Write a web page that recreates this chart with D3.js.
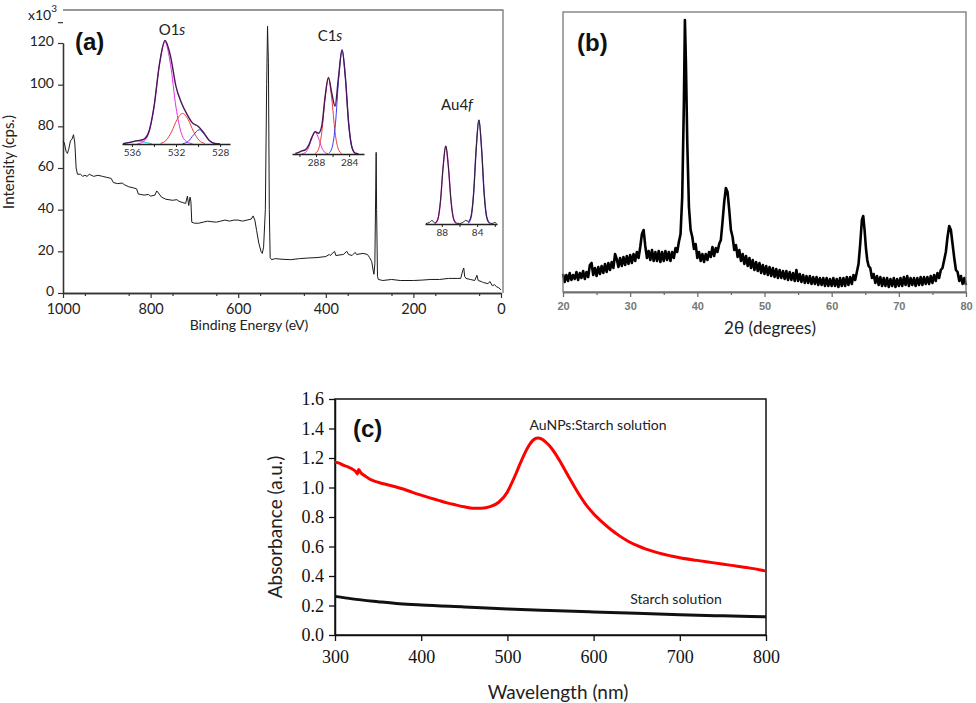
<!DOCTYPE html>
<html><head><meta charset="utf-8">
<script src="https://cdn.jsdelivr.net/npm/d3@7"></script>
<style>body{margin:0;background:#fff}svg{display:block}</style>
</head><body>
<svg id="fig" width="976" height="703"></svg>
<script>
// ---------- DATA ----------
// (a) XPS survey: [binding energy eV, intensity x10^3 cps]
const surveyData = [[1000,73],[997,72],[993,68],[990,67],[987,69],[983,73],[979,74],[976,76],[973,72],[970,60],[967,57],[960,57],[955,56],[950,56.5],[945,56],[940,57],[930,56],[920,56.5],[910,56],[900,55.5],[890,55],[885,53],[875,52.5],[865,52.8],[860,52],[850,51],[840,50.5],[832,50],[828,47.5],[815,47],[805,47.3],[800,46.5],[790,47],[786,49],[782,48],[775,46],[765,45],[750,44.5],[740,44.8],[735,44],[728,43.5],[720,43],[716,46.5],[713,42],[710,46],[708,44],[706,34],[700,33.5],[690,33.5],[680,34],[670,34.5],[660,34.2],[650,34],[640,34.5],[630,35],[620,34.5],[610,35],[600,35],[590,34.5],[580,35],[570,35.5],[566,37],[562,35],[558,30],[553,24],[548,20],[545,19],[542,22],[538,40],[535,100],[533,128],[531,110],[529,40],[527,17],[524,16],[515,16.5],[500,16.2],[480,16],[460,16.5],[440,16.8],[420,17],[400,17.5],[392,18.5],[390,18],[380,20],[377,18],[360,18.5],[352,20],[348,18.5],[340,18],[333,19.5],[330,18.5],[315,19],[305,18.5],[300,17],[295,15],[292,11],[290,9],[288,14],[286,50],[285,67.5],[284,40],[282,8],[280,6.5],[270,6],[250,6.5],[230,6],[200,6],[180,6.2],[160,6.5],[140,6.5],[120,7],[100,7],[92,7],[89,9.5],[87,11],[85,12],[83,8],[80,7],[70,6.5],[60,6],[55,8.5],[52,6],[45,5.5],[40,5],[30,4.5],[25,5.5],[20,3.5],[15,4],[10,3],[5,2.5],[0,1.5]];
const surveyXTicks = [1000, 800, 600, 400, 200, 0];
const surveyYTicks = [0, 20, 40, 60, 80, 100, 120];

// (a) insets: high-resolution regions [eV, relative intensity]
const o1sMain = [[535.5,0.3],[535,2],[534.5,10],[534,36],[533.5,78],[533,100],[532.5,78],[532,36],[531.5,10],[531,2],[530.5,0.3]];
const o1sRed = [[533.4,0.6],[532.9,3.5],[532.4,12],[531.9,24],[531.4,30],[530.9,24],[530.4,12],[529.9,3.5],[529.4,0.6]];
const o1sBlue = [[531.4,0.3],[530.9,2.5],[530.4,9],[529.9,14],[529.4,9],[528.9,2.5],[528.4,0.3]];
const o1sCyan = [[536.8,0.3],[536.2,1.6],[535.5,3],[534.8,1.6],[534.2,0.3]];
const o1sEnvelope = [[536.8,0.4],[536.2,1.6],[535.5,3.3],[535,4.2],[534.5,10.9],[534,36.2],[533.5,78.3],[533,101.5],[532.5,86.2],[532,56.3],[531.5,40.2],[531,29.1],[530.5,20.5],[530,17.4],[529.5,11.4],[529,3.7],[528.5,0.6],[528,0.1]];
const c1sBlue = [[286.45,0.7],[286.05,6.3],[285.65,29],[285.25,73.5],[284.85,100],[284.45,73.5],[284.05,29],[283.65,6.3],[283.25,0.7]];
const c1sRed = [[288.1,0.5],[287.7,4.6],[287.3,21],[286.9,53.7],[286.5,73],[286.1,53.7],[285.7,21],[285.3,4.6],[284.9,0.5]];
const c1sMagenta = [[289.7,0.15],[289.3,1.3],[288.9,6.1],[288.5,15.4],[288.1,21],[287.7,15.4],[287.3,6.1],[286.9,1.3],[286.5,0.15]];
const c1sEnvelope = [[290.5,0.5],[290.1,1.5],[289.7,3],[289.3,4],[288.9,8],[288.5,16],[288.1,21.5],[287.7,20],[287.3,27.1],[286.9,55],[286.5,73.7],[286.1,58.7],[285.7,46],[285.3,72.6],[284.85,100],[284.45,73.5],[284.05,29],[283.65,6.3],[283.25,0.7],[282.85,0.1]];
const au4fLeft = [[88.75,0.5],[88.45,4.5],[88.15,21.8],[87.85,54.8],[87.55,75],[87.25,54.8],[86.95,21.8],[86.65,4.5],[86.35,0.5]];
const au4fRight = [[85.0,0.7],[84.7,6],[84.4,29],[84.1,73],[83.8,100],[83.5,73],[83.2,29],[82.9,6],[82.6,0.7]];
const au4fEnvelope = [[89.8,0.5],[89.4,1.5],[89.1,3.5],[88.9,1.5],[88.75,1],[88.45,4.5],[88.15,21.8],[87.85,54.8],[87.55,75],[87.25,54.8],[86.95,21.8],[86.65,4.5],[86.35,0.8],[86.0,0.5],[85.6,1.5],[85.3,3.5],[85.0,2.5],[84.7,7],[84.4,29],[84.1,73],[83.8,100],[83.5,73],[83.2,29],[82.9,6],[82.6,1],[82.3,0.5],[82.0,1.5],[81.8,0.3]];

// (b) XRD pattern: [2theta deg, intensity a.u.]
const xrdData = [[20,18],[20.25,10],[20.5,17],[20.75,11],[21,19],[21.25,12],[21.5,17],[21.75,13],[22,20],[22.25,12],[22.5,19],[22.75,14],[23,21],[23.25,13],[23.5,20],[23.75,15],[24,27],[24.25,29],[24.5,17],[24.75,24],[25,16],[25.25,25],[25.5,18],[25.75,26],[26,19],[26.25,28],[26.5,20],[26.75,29],[27,22],[27.25,30],[27.5,24],[27.75,38],[28,33],[28.25,25],[28.5,34],[28.75,26],[29,35],[29.25,27],[29.5,36],[29.75,28],[30,37],[30.25,29],[30.5,38],[30.75,31],[31,40],[31.25,34],[31.5,45],[31.75,58],[32,62],[32.25,46],[32.5,34],[32.75,41],[33,32],[33.25,42],[33.5,31],[33.75,40],[34,31],[34.25,41],[34.5,30],[34.75,40],[35,31],[35.25,41],[35.5,32],[35.75,40],[36,31],[36.25,40],[36.5,34],[36.75,44],[37,40],[37.25,50],[37.5,58],[37.75,95],[38,190],[38.15,272],[38.3,230],[38.5,150],[38.75,85],[39,62],[39.25,55],[39.5,43],[39.75,48],[40,34],[40.25,40],[40.5,31],[40.75,38],[41,30],[41.25,38],[41.5,32],[41.75,40],[42,35],[42.25,45],[42.5,36],[42.75,44],[43,40],[43.25,48],[43.5,52],[43.75,70],[44,90],[44.25,104],[44.5,100],[44.75,82],[45,62],[45.25,55],[45.5,42],[45.75,47],[46,35],[46.25,42],[46.5,31],[46.75,38],[47,28],[47.25,36],[47.5,26],[47.75,34],[48,24],[48.25,32],[48.5,22],[48.75,30],[49,21],[49.25,29],[49.5,19],[49.75,27],[50,18],[50.25,26],[50.5,17],[50.75,25],[51,16],[51.25,24],[51.5,15],[51.75,23],[52,14],[52.25,22],[52.5,14],[52.75,21],[53,13],[53.25,21],[53.5,12],[53.75,20],[54,12],[54.25,19],[54.5,11],[54.75,22],[55,11],[55.25,18],[55.5,10],[55.75,17],[56,9],[56.25,16],[56.5,9],[56.75,16],[57,8],[57.25,15],[57.5,8],[57.75,15],[58,7],[58.25,14],[58.5,7],[58.75,14],[59,6],[59.25,14],[59.5,6],[59.75,13],[60,6],[60.25,14],[60.5,6],[60.75,13],[61,5],[61.25,14],[61.5,6],[61.75,14],[62,6],[62.25,15],[62.5,7],[62.75,15],[63,8],[63.25,17],[63.5,12],[63.75,20],[64,28],[64.25,48],[64.5,72],[64.7,76],[64.9,62],[65.1,44],[65.3,32],[65.5,26],[65.75,24],[66,14],[66.25,18],[66.5,9],[66.75,16],[67,7],[67.25,15],[67.5,6],[67.75,14],[68,6],[68.25,14],[68.5,5],[68.75,13],[69,6],[69.25,14],[69.5,5],[69.75,13],[70,6],[70.25,14],[70.5,6],[70.75,15],[71,7],[71.25,16],[71.5,6],[71.75,14],[72,7],[72.25,14],[72.5,6],[72.75,14],[73,7],[73.25,15],[73.5,7],[73.75,15],[74,8],[74.25,15],[74.5,8],[74.75,16],[75,9],[75.25,17],[75.5,11],[75.75,19],[76,14],[76.25,22],[76.5,24],[76.75,32],[77,40],[77.25,55],[77.5,66],[77.75,62],[78,48],[78.25,34],[78.5,22],[78.75,20],[79,11],[79.25,16],[79.5,8],[79.75,14],[80,7]];
const xrdTicks = [20, 30, 40, 50, 60, 70, 80];

// (c) UV-vis absorbance: [wavelength nm, absorbance a.u.]
const auNpsStarch = [[300,1.172],[305,1.165],[310,1.150],[315,1.140],[320,1.125],[324,1.108],[326,1.092],[327.5,1.122],[330,1.100],[335,1.078],[340,1.058],[345,1.045],[350,1.036],[360,1.020],[370,1.005],[380,0.988],[390,0.967],[400,0.948],[410,0.930],[420,0.913],[430,0.896],[440,0.882],[450,0.869],[460,0.860],[470,0.860],[480,0.870],[490,0.900],[500,0.970],[505,1.030],[510,1.095],[515,1.165],[520,1.230],[525,1.285],[530,1.322],[535,1.336],[540,1.328],[545,1.305],[550,1.275],[555,1.235],[560,1.188],[570,1.085],[580,0.983],[590,0.893],[600,0.822],[610,0.765],[620,0.715],[630,0.672],[640,0.636],[650,0.607],[660,0.584],[670,0.565],[680,0.549],[690,0.536],[700,0.524],[720,0.506],[740,0.489],[760,0.472],[780,0.455],[800,0.434]];
const starchOnly = [[300,0.262],[320,0.245],[350,0.226],[375,0.212],[400,0.203],[450,0.190],[500,0.177],[550,0.166],[600,0.156],[650,0.147],[700,0.138],[750,0.130],[800,0.123]];
const uvXTicks = [300, 400, 500, 600, 700, 800];
const uvYTicks = [0, 0.2, 0.4, 0.6, 0.8, 1.0, 1.2, 1.4, 1.6];

// ---------- DRAW ----------
const svg = d3.select("#fig");
const SANS = "Lato, 'Open Sans', sans-serif";
const SERIF = "'Liberation Serif', 'DejaVu Serif', serif";

// ===== Panel (a) =====
const ax = d3.scaleLinear().domain([1000, 0]).range([63, 501]);
const ay = d3.scaleLinear().domain([0, 120]).range([293, 43]);
const ga = svg.append("g");
ga.append("path").attr("d", "M63,10H503V293").attr("fill","none").attr("stroke","#777").attr("stroke-width",1.3);
const aXAxis = ga.append("g").attr("transform","translate(0,293)")
  .call(d3.axisBottom(ax).tickValues(surveyXTicks).tickFormat(d3.format("d")).tickSize(5).tickSizeOuter(0));
const aXMinor = ga.append("g").attr("transform","translate(0,293)")
  .call(d3.axisBottom(ax).tickValues(d3.range(950, 0, -100)).tickSize(3).tickFormat("").tickSizeOuter(0));
const aYAxis = ga.append("g").attr("transform","translate(63,0)")
  .call(d3.axisLeft(ay).tickValues(surveyYTicks).tickSize(5).tickSizeOuter(0));
const aYMinor = ga.append("g").attr("transform","translate(63,0)")
  .call(d3.axisLeft(ay).tickValues([130]).tickSize(5).tickFormat("").tickSizeOuter(0));
[aXAxis, aXMinor, aYAxis, aYMinor].forEach(g => {
  g.selectAll("path").attr("stroke","#333").attr("stroke-width",1.3);
  g.selectAll("line").attr("stroke","#333").attr("stroke-width",1.2);
  g.selectAll("text").attr("font-family",SANS).attr("font-size",15).attr("fill","#222");
});
aXAxis.selectAll("text").attr("dy","0.92em").attr("font-size",14.5);
aYAxis.selectAll("text").attr("dx","-1").attr("dy","0.2em").attr("font-size",14);
ga.append("path").datum(surveyData)
  .attr("d", d3.line().x(d=>ax(d[0])).y(d=>ay(d[1])))
  .attr("fill","none").attr("stroke","#1a1a1a").attr("stroke-width",1);
const x103 = ga.append("text").attr("x",28).attr("y",20).attr("font-family",SANS).attr("font-size",14).attr("fill","#222");
x103.append("tspan").text("x10");
x103.append("tspan").attr("dy",-8).attr("font-size",10).text("3");
ga.append("text").attr("x",75).attr("y",50).attr("font-family","'Liberation Sans', Arial, sans-serif")
  .attr("font-weight","bold").attr("font-size",24).attr("fill","#111").text("(a)");
ga.append("text").attr("x",249).attr("y",330).attr("text-anchor","middle").attr("font-family",SANS)
  .attr("font-size",14).attr("fill","#222").text("Binding Energy (eV)");
ga.append("text").attr("transform","translate(14,162) rotate(-90)").attr("text-anchor","middle")
  .attr("font-family",SANS).attr("font-size",15).attr("fill","#222").text("Intensity (cps.)");

function inset(cfg){
  const sx = d3.scaleLinear().domain(cfg.dom).range(cfg.xr);
  const sy = d3.scaleLinear().domain([0,100]).range([cfg.base, cfg.base - cfg.h]);
  const g = ga.append("g");
  const ln = d3.line().x(d=>sx(d[0])).y(d=>sy(d[1])).curve(d3.curveMonotoneX);
  cfg.comps.forEach(c => g.append("path").datum(c.data).attr("d", ln)
     .attr("fill","none").attr("stroke",c.color).attr("stroke-width",c.w||1));
  const axg = g.append("g").attr("transform",`translate(0,${cfg.base})`)
     .call(d3.axisBottom(sx).tickValues(cfg.ticks).tickSize(3).tickFormat(d => cfg.labels.includes(d) ? d : "").tickSizeOuter(0));
  axg.selectAll("path").attr("stroke","#222").attr("stroke-width",1.5);
  axg.selectAll("line").attr("stroke","#222");
  axg.selectAll("text").attr("font-family",SANS).attr("font-size",10).attr("fill","#333").attr("dy","0.6em");
  const t = ga.append("text").attr("x",cfg.tx).attr("y",cfg.ty).attr("text-anchor","middle")
     .attr("font-family",SANS).attr("font-size",15).attr("fill","#222");
  t.append("tspan").text(cfg.title[0]);
  t.append("tspan").attr("font-style","italic").text(cfg.title[1]);
}
inset({dom:[536.9,527.1], xr:[122,230], base:144, h:102, ticks:[536,534,532,530,528], labels:[536,532,528],
  comps:[{data:o1sCyan,color:"#22c8d0"},{data:o1sMain,color:"#e030e0"},{data:o1sRed,color:"#f03a3a"},{data:o1sBlue,color:"#3a3af0"},{data:o1sEnvelope,color:"#4a1458",w:1.4}],
  tx:172, ty:35, title:["O1","s"]});
inset({dom:[290.9,282.2], xr:[292,364], base:154, h:104, ticks:[290,288,286,284], labels:[288,284],
  comps:[{data:c1sMagenta,color:"#e030e0"},{data:c1sRed,color:"#f03a3a"},{data:c1sBlue,color:"#3a3af0"},{data:c1sEnvelope,color:"#4a1458",w:1.4}],
  tx:330, ty:41, title:["C1","s"]});
inset({dom:[89.9,81.75], xr:[425,497], base:224, h:104, ticks:[88,86,84,82], labels:[88,84],
  comps:[{data:au4fLeft,color:"#e030e0",w:1.4},{data:au4fRight,color:"#7a3ad8",w:1.4},{data:au4fEnvelope,color:"#222",w:1}],
  tx:457, ty:110, title:["Au4","f"]});

// ===== Panel (b) =====
const bx = d3.scaleLinear().domain([20,80]).range([563,966]);
const by = d3.scaleLinear().domain([0,280]).range([292,12]);
const gb = svg.append("g");
const bAxis = gb.append("g").attr("transform","translate(0,292)")
  .call(d3.axisBottom(bx).tickValues(xrdTicks).tickSize(5).tickSizeOuter(0));
const bMinor = gb.append("g").attr("transform","translate(0,292)")
  .call(d3.axisBottom(bx).tickValues(d3.range(25,80,10)).tickSize(3).tickFormat("").tickSizeOuter(0));
[bAxis,bMinor].forEach(g => {
  g.selectAll("path").attr("stroke","#666").attr("stroke-width",1.3);
  g.selectAll("line").attr("stroke","#666").attr("stroke-width",1.2);
});
bAxis.selectAll("text").attr("font-family","'Liberation Sans', Arial, sans-serif").attr("font-size",11)
  .attr("font-weight","bold").attr("fill","#777").attr("dy","0.9em");
gb.append("path").datum(xrdData)
  .attr("d", d3.line().x(d=>bx(d[0])).y(d=>by(d[1])))
  .attr("fill","none").attr("stroke","#000").attr("stroke-width",2.6).attr("stroke-linejoin","round");
gb.append("rect").attr("x",563).attr("y",12).attr("width",403).attr("height",280)
  .attr("fill","none").attr("stroke","#777").attr("stroke-width",1.3);
gb.append("text").attr("x",577).attr("y",51).attr("font-family","'Liberation Sans', Arial, sans-serif")
  .attr("font-weight","bold").attr("font-size",24).attr("fill","#111").text("(b)");
gb.append("text").attr("x",770).attr("y",334).attr("text-anchor","middle").attr("font-family",SANS)
  .attr("font-size",17).attr("fill","#222").text("2θ (degrees)");

// ===== Panel (c) =====
const cx = d3.scaleLinear().domain([300,800]).range([335,766]);
const cy = d3.scaleLinear().domain([0,1.6]).range([635,399]);
const gc = svg.append("g");
gc.append("rect").attr("x",335).attr("y",399).attr("width",431).attr("height",236)
  .attr("fill","none").attr("stroke","#111").attr("stroke-width",1.5);
const cXAxis = gc.append("g").attr("transform","translate(0,635)")
  .call(d3.axisBottom(cx).tickValues(uvXTicks).tickSize(6).tickSizeOuter(0));
const cYAxis = gc.append("g").attr("transform","translate(335,0)")
  .call(d3.axisLeft(cy).tickValues(uvYTicks).tickSize(6).tickFormat(d3.format(".1f")).tickSizeOuter(0));
[cXAxis,cYAxis].forEach(g => {
  g.selectAll("path").attr("stroke","#111").attr("stroke-width",1.5);
  g.selectAll("line").attr("stroke","#111").attr("stroke-width",1.3);
  g.selectAll("text").attr("font-family",SERIF).attr("font-size",18).attr("fill","#111");
});
cXAxis.selectAll("text").attr("dy","1.05em");
cYAxis.selectAll("text").attr("dx","-2");
const uvLine = d3.line().x(d=>cx(d[0])).y(d=>cy(d[1])).curve(d3.curveMonotoneX);
gc.append("path").datum(starchOnly).attr("d",uvLine).attr("fill","none").attr("stroke","#111").attr("stroke-width",3);
gc.append("path").datum(auNpsStarch).attr("d",uvLine).attr("fill","none").attr("stroke","#f00").attr("stroke-width",3);
gc.append("text").attr("x",353).attr("y",437).attr("font-family","'Liberation Sans', Arial, sans-serif")
  .attr("font-weight","bold").attr("font-size",24).attr("fill","#111").text("(c)");
gc.append("text").attr("x",598).attr("y",430).attr("text-anchor","middle").attr("font-family",SANS)
  .attr("font-size",14).attr("fill","#222").text("AuNPs:Starch solution");
gc.append("text").attr("x",676).attr("y",604).attr("text-anchor","middle").attr("font-family",SANS)
  .attr("font-size",14).attr("fill","#222").text("Starch solution");
gc.append("text").attr("x",558).attr("y",699).attr("text-anchor","middle").attr("font-family",SANS)
  .attr("font-size",19).attr("fill","#222").text("Wavelength (nm)");
gc.append("text").attr("transform","translate(282,527) rotate(-90)").attr("text-anchor","middle")
  .attr("font-family",SANS).attr("font-size",19).attr("fill","#222").text("Absorbance (a.u.)");
</script>
</body></html>
